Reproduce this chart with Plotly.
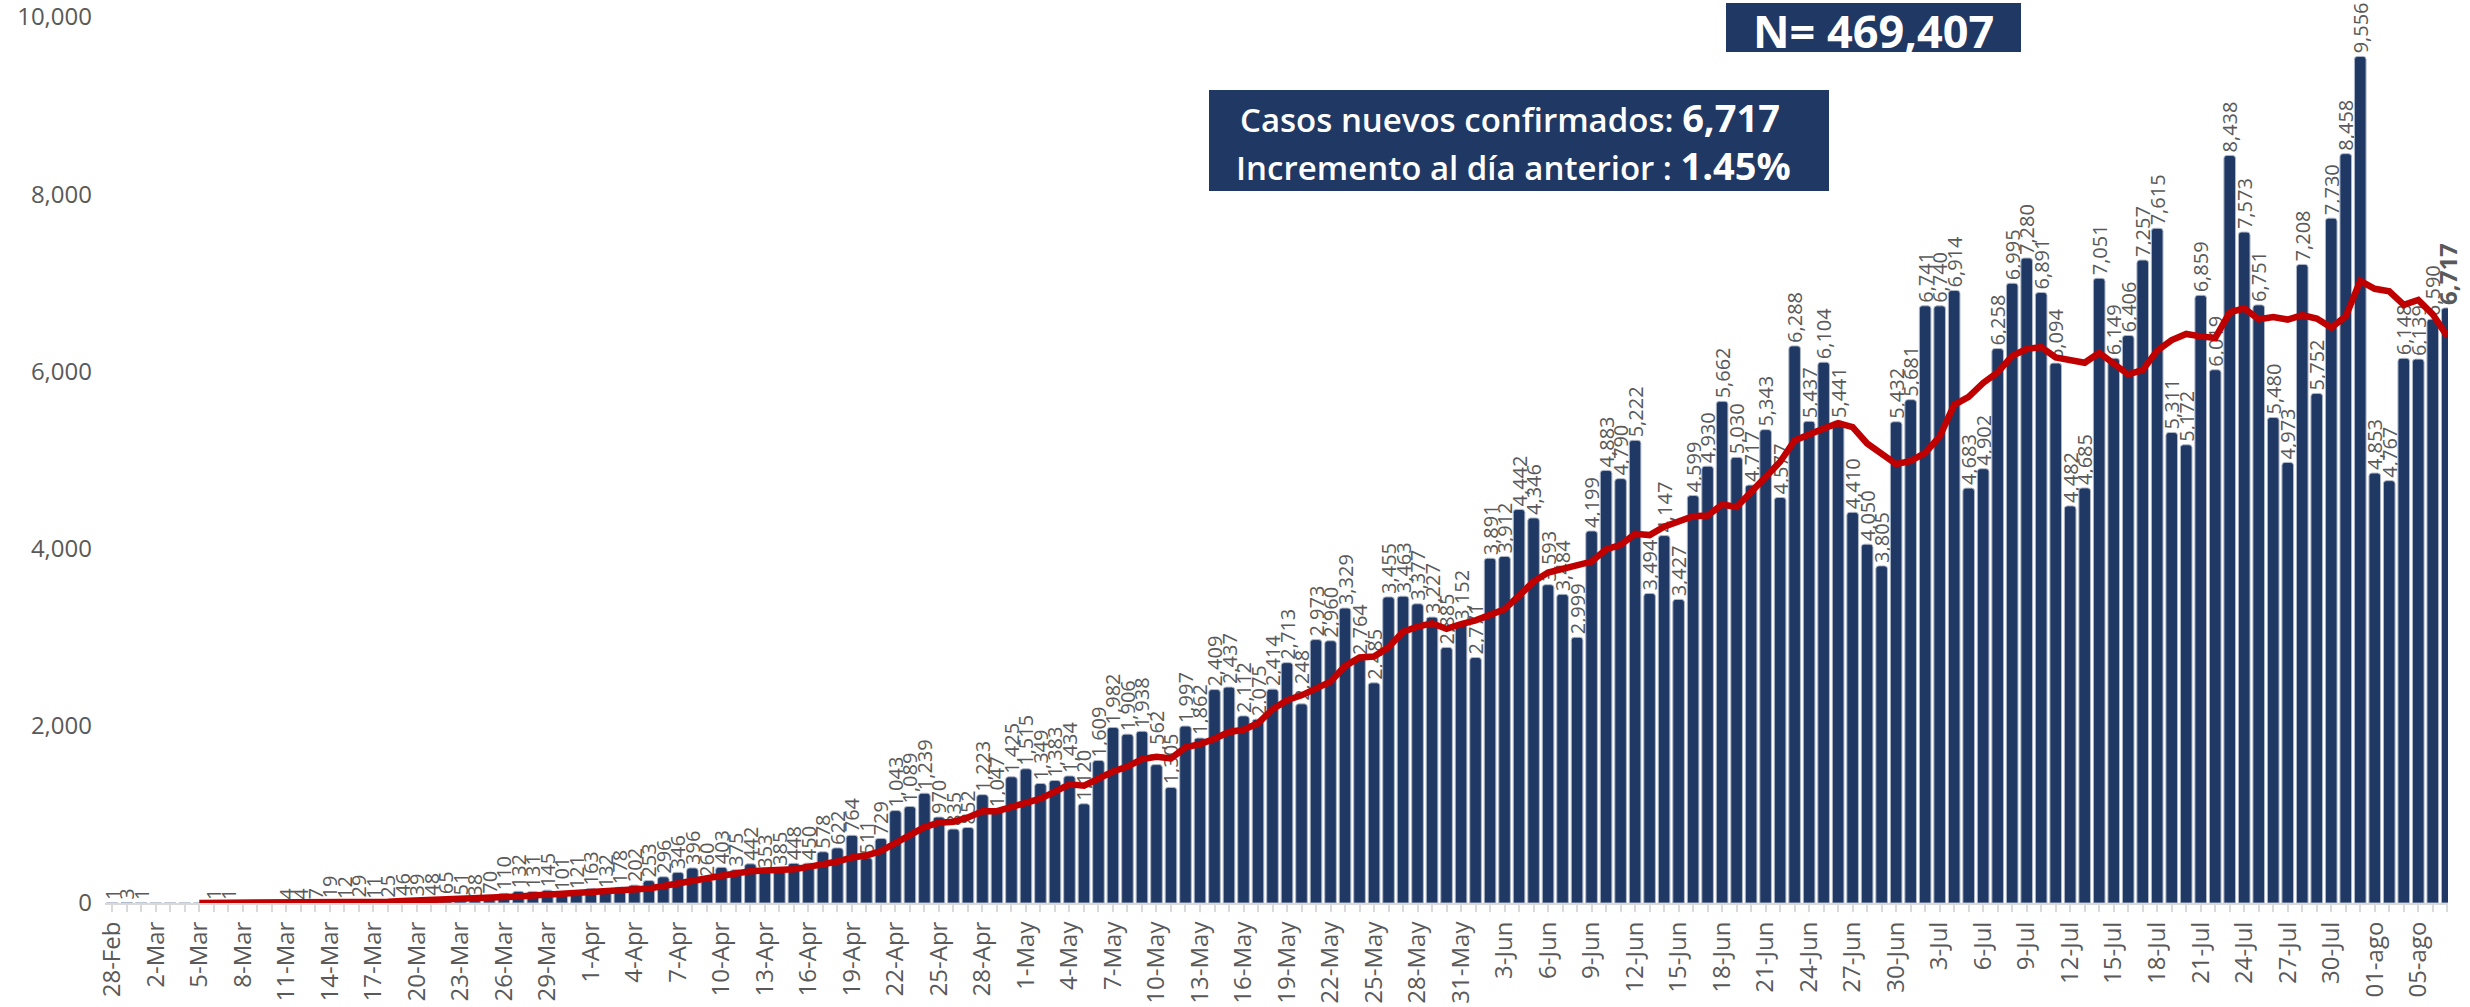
import plotly.graph_objects as go
import plotly.express as px

# Daily new confirmed cases, 28-Feb to 7-Aug (one value per day)
cases = [
    1, 3, 1, 0, 0, 0, 0, 1, 1, 0, 0, 0,
    4, 4, 7, 19, 12, 29, 11, 25, 46, 39, 48, 65, 51, 38, 70, 110,
    132, 131, 145, 101, 121, 163, 132, 178, 202, 253, 296, 346, 396, 260,
    403, 375, 442, 353, 385, 448, 450, 578, 622, 764, 511, 729,
    1043, 1089, 1239, 970, 835, 852, 1223, 1047, 1425, 1515, 1349, 1383,
    1434, 1120, 1609, 1982, 1906, 1938, 1562, 1305, 1997, 1862, 2409, 2437,
    2112, 2075, 2414, 2713, 2248, 2973, 2960, 3329, 2764, 2485, 3455, 3463,
    3377, 3227, 2885, 3152, 2771, 3891, 3912, 4442, 4346, 3593, 3484, 2999,
    4199, 4883, 4790, 5222, 3494, 4147, 3427, 4599, 4930, 5662, 5030, 4717,
    5343, 4577, 6288, 5437, 6104, 5441, 4410, 4050, 3805, 5432, 5681, 6741,
    6740, 6914, 4683, 4902, 6258, 6995, 7280, 6891, 6094, 4482, 4685, 7051,
    6149, 6406, 7257, 7615, 5311, 5172, 6859, 6019, 8438, 7573, 6751, 5480,
    4973, 7208, 5752, 7730, 8458, 9556, 4853, 4767, 6148, 6139, 6590, 6717,
]

# Category-axis labels (shown on every third day)
tick_labels = [
    "28-Feb", "2-Mar", "5-Mar", "8-Mar", "11-Mar", "14-Mar", "17-Mar", "20-Mar",
    "23-Mar", "26-Mar", "29-Mar", "1-Apr", "4-Apr", "7-Apr", "10-Apr", "13-Apr",
    "16-Apr", "19-Apr", "22-Apr", "25-Apr", "28-Apr", "1-May", "4-May", "7-May",
    "10-May", "13-May", "16-May", "19-May", "22-May", "25-May", "28-May", "31-May",
    "3-Jun", "6-Jun", "9-Jun", "12-Jun", "15-Jun", "18-Jun", "21-Jun", "24-Jun",
    "27-Jun", "30-Jun", "3-Jul", "6-Jul", "9-Jul", "12-Jul", "15-Jul", "18-Jul",
    "21-Jul", "24-Jul", "27-Jul", "30-Jul", "01-ago", "05-ago",
]
y_ticks = [0, 2000, 4000, 6000, 8000, 10000]

total_cases = "469,407"
new_cases = "6,717"
increase_pct = "1.45%"

NAVY = "#203864"
RED = "#C00000"
GRAY = "#595959"
AXIS_GRAY = "#D9D9D9"
FONT = "Open Sans"

W, H = 2470, 1007
ML, MR, MT, MB = 105, 22, 17, 104


def pxx(p):
    return (p - ML) / (W - ML - MR)


def pxy(p):
    return (H - MB - p) / (H - MT - MB)


x = list(range(len(cases)))
bar_text = [f"{v:,}" if v else "" for v in cases]
bar_text[-1] = f"<b>{cases[-1]:,}</b>"
text_sizes = [20] * (len(cases) - 1) + [24]

# 7-day moving-average trendline, computed by Plotly Express
trend_fig = px.scatter(x=x, y=[float(v) for v in cases], trendline="rolling",
                       trendline_options=dict(window=7))
trend = trend_fig.data[1]

fig = go.Figure()
fig.add_trace(go.Bar(
    x=x, y=cases,
    marker=dict(color=NAVY, line=dict(color="#AEB8C8", width=1)),
    text=bar_text, textposition="outside", textangle=-90,
    textfont=dict(family=FONT, size=text_sizes, color=GRAY),
    constraintext="none", cliponaxis=False,
    hoverinfo="x+y",
))
fig.add_trace(go.Scatter(
    x=list(trend.x), y=list(trend.y), mode="lines",
    line=dict(color=RED, width=6.5), hoverinfo="skip",
))

fig.update_layout(
    width=W, height=H,
    margin=dict(l=ML, r=MR, t=MT, b=MB, autoexpand=False),
    plot_bgcolor="white", paper_bgcolor="white",
    showlegend=False, bargap=0.2, barcornerradius=3,
    font=dict(family=FONT, color=GRAY),
)
fig.update_xaxes(
    range=[-0.5, len(cases) - 0.95], automargin=False,
    tickmode="array", tickvals=x[::3], ticktext=tick_labels,
    tickangle=-90, tickfont=dict(size=24, color=GRAY),
    showline=True, linecolor=AXIS_GRAY, linewidth=2,
    ticks="outside", ticklen=7, tickcolor=AXIS_GRAY, tickwidth=2,
    minor=dict(dtick=1, tick0=0, ticks="outside", ticklen=7,
               tickcolor=AXIS_GRAY, tickwidth=2, showgrid=False),
    showgrid=False, zeroline=False,
)
fig.update_yaxes(
    range=[0, 10000.5], automargin=False, tickmode="array",
    tickvals=y_ticks, ticktext=[f"{v:,}" for v in y_ticks],
    tickfont=dict(size=24, color=GRAY), ticklabeloverflow="allow",
    showgrid=False, zeroline=False, showline=False, ticks="",
    ticklabelstandoff=12,
)

# Boxes
fig.add_shape(type="rect", xref="paper", yref="paper",
              x0=pxx(1726), x1=pxx(2021), y0=pxy(52), y1=pxy(3),
              fillcolor=NAVY, line=dict(width=0), layer="above")
fig.add_shape(type="rect", xref="paper", yref="paper",
              x0=pxx(1209), x1=pxx(1829), y0=pxy(191), y1=pxy(90),
              fillcolor=NAVY, line=dict(width=0), layer="above")

fig.add_annotation(xref="paper", yref="paper", x=pxx(1873), y=pxy(30),
                   text=f"<b>N= {total_cases}</b>", showarrow=False,
                   font=dict(family=FONT, size=45, color="white"),
                   xanchor="center", yanchor="middle")
fig.add_annotation(xref="paper", yref="paper", x=pxx(1510), y=pxy(117),
                   text=f"Casos nuevos confirmados: <b><span style='font-size:38px'>{new_cases}</span></b>",
                   showarrow=False,
                   font=dict(family=FONT, size=33, color="white", weight=600),
                   xanchor="center", yanchor="middle")
fig.add_annotation(xref="paper", yref="paper", x=pxx(1514), y=pxy(165),
                   text=f"Incremento al día anterior : <b><span style='font-size:38px'>{increase_pct}</span></b>",
                   showarrow=False,
                   font=dict(family=FONT, size=33, color="white", weight=600),
                   xanchor="center", yanchor="middle")

fig.write_html("out.html", config={"displayModeBar": False},
               post_script="document.body.style.margin='0px';")
